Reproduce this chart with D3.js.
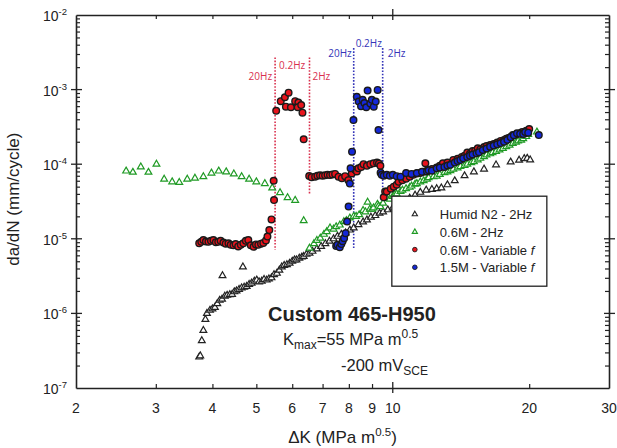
<!DOCTYPE html>
<html>
<head>
<meta charset="utf-8">
<script src="https://cdn.jsdelivr.net/npm/d3@7"></script>
<style>
  body { margin: 0; background: #fff; }
  text { font-family: "Liberation Sans", Arial, sans-serif; fill: #222; }
</style>
</head>
<body>
<div id="chart"></div>
<script>
// data: [deltaK (MPa m^0.5), da/dN (mm/cycle)]
var humidN2 = [
  [3.74,2.6e-7],[3.76,2.7e-7],[3.79,4.3e-7],[3.82,5.9e-7],[3.86,8.3e-7],[3.89,1.0e-6],[3.95,1.1e-6],
  [4.0,1.15e-6],[4.05,1.2e-6],[4.1,1.35e-6],[4.15,1.5e-6],[4.21,3.2e-6],[4.2,1.55e-6],[4.26,1.7e-6],
  [4.31,1.75e-6],[4.37,1.78e-6],[4.42,1.8e-6],[4.47,1.95e-6],[4.52,2.0e-6],[4.58,2.1e-6],[4.64,2.2e-6],
  [4.67,4.2e-6],[4.7,2.25e-6],[4.76,2.3e-6],[4.82,2.45e-6],[4.88,2.55e-6],[4.95,2.7e-6],[5.01,2.8e-6],
  [5.07,2.65e-6],[5.14,2.7e-6],[5.2,2.85e-6],[5.27,2.8e-6],[5.33,2.9e-6],[5.4,3.0e-6],[5.47,3.3e-6],
  [5.55,3.45e-6],[5.62,3.8e-6],[5.69,4.2e-6],[5.76,4.4e-6],[5.84,4.5e-6],[5.92,4.7e-6],[6.0,5.0e-6],
  [6.07,5.2e-6],[6.13,5.2e-6],[6.22,5.5e-6],[6.3,5.7e-6],[6.36,5.8e-6],[6.45,6.2e-6],[6.55,6.4e-6],
  [6.65,6.8e-6],[6.8,7.3e-6],[6.95,7.9e-6],[7.1,8.6e-6],[7.25,9.3e-6],[7.4,1.0e-5],[7.55,1.08e-5],
  [7.7,1.15e-5],[7.87,1.2e-5],[8.04,1.31e-5],[8.2,1.4e-5],[8.4,1.55e-5],[8.6,1.68e-5],[8.77,1.79e-5],
  [8.95,1.95e-5],[9.15,2.05e-5],[9.35,2.2e-5],[9.52,2.3e-5],[9.75,2.45e-5],[10.0,2.6e-5],[10.2,2.75e-5],
  [10.4,3.0e-5],[10.65,3.2e-5],[10.9,3.5e-5],[11.2,3.85e-5],[11.5,4.2e-5],[11.85,4.5e-5],[12.2,4.6e-5],
  [12.5,4.7e-5],[12.8,4.8e-5],[13.2,5.3e-5],[13.7,6.0e-5],[14.4,7.0e-5],[15.1,7.9e-5],[15.9,8.6e-5],
  [16.9,9.8e-5],[18.2,1.07e-4],[19.0,1.13e-4],[19.5,1.19e-4],[19.8,1.2e-4],[20.1,1.14e-4]
];

var nacl06_2Hz = [
  [2.58,8.1e-5],[2.67,7.8e-5],[2.78,9.2e-5],[2.89,7.8e-5],[3.01,1.0e-4],[3.13,6.3e-5],[3.26,5.8e-5],
  [3.38,5.7e-5],[3.52,6.3e-5],[3.66,6.5e-5],[3.82,6.8e-5],[3.98,7.6e-5],[4.13,8.1e-5],[4.29,7.9e-5],
  [4.46,7.4e-5],[4.64,6.8e-5],[4.82,6.3e-5],[5.0,5.8e-5],[5.22,5.5e-5],[5.42,4.8e-5],[5.64,4.15e-5],
  [5.86,3.56e-5],[6.09,3.28e-5],[6.36,1.75e-5],
  [6.55,7.5e-6],[6.7,8.6e-6],[6.8,9.5e-6],[6.92,1.02e-5],[7.05,1.15e-5],[7.15,1.25e-5],[7.27,1.4e-5],
  [7.4,1.35e-5],[7.5,1.45e-5],[7.64,1.53e-5],[7.8,1.7e-5],[7.9,1.75e-5],[8.04,1.9e-5],[8.2,2.0e-5],
  [8.3,2.0e-5],[8.43,2.1e-5],[8.6,2.4e-5],[8.7,2.3e-5],[8.8,3.1e-5],[8.9,2.5e-5],[9.0,2.5e-5],
  [9.07,2.6e-5],[9.25,2.9e-5],[9.3,2.75e-5],[9.39,2.7e-5],[9.52,3.0e-5],[9.7,3.5e-5],[9.85,3.4e-5],
  [10.0,3.7e-5],[10.1,3.9e-5],[10.2,4.0e-5],[10.4,4.3e-5],[10.5,4.5e-5],[10.7,4.7e-5],[10.9,4.9e-5],
  [11.0,5.1e-5],[11.2,5.4e-5],[11.3,5.5e-5],[11.5,5.8e-5],[11.7,6.0e-5],[11.9,6.3e-5],[12.0,6.6e-5],
  [12.3,6.8e-5],[12.5,6.9e-5],[12.7,7.3e-5],[13.0,7.7e-5],[13.2,7.9e-5],[13.4,8.2e-5],[13.6,8.6e-5],
  [13.9,8.9e-5],[14.1,9.3e-5],[14.4,9.6e-5],[14.6,1.0e-4],[14.9,1.05e-4],[15.1,1.08e-4],[15.4,1.14e-4],
  [15.6,1.2e-4],[15.9,1.26e-4],[16.1,1.33e-4],[16.4,1.38e-4],[16.6,1.43e-4],[16.9,1.48e-4],
  [17.2,1.55e-4],[17.5,1.63e-4],[17.8,1.72e-4],[18.1,1.8e-4],[18.4,1.9e-4],[18.7,1.98e-4],
  [18.9,2.05e-4],[19.2,2.1e-4],[19.4,2.2e-4],[19.7,2.35e-4],[19.9,2.5e-4],[20.8,2.7e-4]
];

var nacl06_var = [
  [3.74,8.7e-6],[3.78,9.1e-6],[3.82,9.6e-6],[3.87,9.2e-6],[3.92,9.1e-6],[3.97,9.4e-6],[4.02,9.6e-6],
  [4.07,9.0e-6],[4.12,9.1e-6],[4.17,9.4e-6],[4.23,8.9e-6],[4.28,8.6e-6],[4.34,8.7e-6],[4.39,8.3e-6],
  [4.45,8.2e-6],[4.5,8.5e-6],[4.56,7.9e-6],[4.62,8.3e-6],[4.68,8.7e-6],[4.74,9.4e-6],[4.8,9.6e-6],
  [4.86,8.2e-6],[4.93,7.8e-6],[4.99,8.4e-6],[5.05,8.3e-6],[5.12,8.6e-6],[5.18,8.8e-6],[5.25,9.5e-6],
  [5.29,1.07e-5],[5.34,1.31e-5],[5.4,1.82e-5],[5.47,3.3e-5],[5.46,6.0e-5],
  [5.53,5.2e-4],[5.66,7.0e-4],[5.78,7.9e-4],[5.89,9.1e-4],[5.81,5.9e-4],[5.96,5.8e-4],[6.09,7.0e-4],
  [6.19,6.7e-4],[6.17,5.8e-4],[6.28,6.2e-4],[6.32,4.9e-4],[6.36,2.16e-4],
  [6.54,6.95e-5],[6.62,6.7e-5],[6.74,6.8e-5],[6.82,7.0e-5],[6.91,7.1e-5],[7.0,7.0e-5],[7.09,7.1e-5],
  [7.18,7.2e-5],[7.27,7.15e-5],[7.36,7.3e-5],[7.46,7.4e-5],[7.59,6.8e-5],[7.72,6.5e-5],[7.85,6.9e-5],
  [7.98,6.1e-5],[8.12,7.5e-5],[8.26,8.4e-5],[8.33,8.0e-5],[8.4,8.8e-5],[8.52,9.2e-5],[8.62,1.0e-4],
  [8.77,9.5e-5],[8.92,1.0e-4],[9.07,1.03e-4],[9.23,1.05e-4],[9.32,1.02e-4],[9.39,9.5e-5],
  [9.55,3.6e-5],[9.62,4.3e-5],[9.7,4.3e-5],[9.9,4.7e-5],[10.05,5.0e-5],[10.2,5.3e-5],[10.3,5.8e-5],
  [10.5,6.1e-5],[10.7,6.4e-5],[10.9,6.8e-5],[11.1,7.2e-5],[11.3,7.5e-5],[11.5,7.6e-5],[11.7,7.9e-5],
  [11.8,1.03e-4],[11.95,8.4e-5],[12.2,8.6e-5],[12.5,9.0e-5],[12.7,9.5e-5],[12.9,1.03e-4],[13.2,1.05e-4],
  [13.6,1.14e-4],[13.9,1.18e-4],[14.2,1.25e-4],[14.4,1.3e-4],[14.6,1.43e-4],[14.8,1.38e-4],
  [15.0,1.5e-4],[15.2,1.52e-4],[15.4,1.63e-4],[15.6,1.58e-4],[15.9,1.7e-4],[16.1,1.75e-4],
  [16.4,1.81e-4],[16.7,1.86e-4],[17.0,1.95e-4],[17.3,2.05e-4],[17.6,2.11e-4],[17.8,2.2e-4],
  [18.0,2.25e-4],[18.2,2.3e-4],[18.4,2.46e-4],[18.7,2.5e-4],[19.1,2.6e-4],[19.3,2.7e-4],
  [19.5,2.55e-4],[19.7,2.8e-4],[20.0,2.96e-4]
];

var nacl15_var = [
  [7.5,8.0e-6],[7.55,8.3e-6],[7.64,7.7e-6],[7.7,8.5e-6],[7.75,9.3e-6],[7.81,1.02e-5],[7.87,1.19e-5],
  [7.93,1.7e-5],[7.99,2.7e-5],[8.04,5.5e-5],[8.07,8.8e-5],[8.13,1.47e-4],[8.19,3.9e-4],
  [8.33,8.0e-4],[8.41,6.9e-4],[8.51,6.0e-4],[8.58,7.3e-4],[8.66,6.6e-4],[8.74,5.8e-4],[8.8,9.7e-4],
  [8.92,6.5e-4],[8.99,7.3e-4],[9.08,5.9e-4],[9.17,6.9e-4],[9.26,9.9e-4],[9.3,2.87e-4],
  [9.4,7.7e-5],[9.45,7.2e-5],[9.55,7.0e-5],[9.7,7.2e-5],[9.85,7.0e-5],[10.0,7.2e-5],[10.2,6.9e-5],
  [10.4,6.8e-5],[10.7,7.6e-5],[11.0,7.4e-5],[11.3,7.6e-5],[11.6,7.9e-5],[11.9,8.0e-5],[12.0,8.3e-5],
  [12.2,8.2e-5],[12.5,8.8e-5],[12.7,9.0e-5],[13.0,9.2e-5],[13.2,9.6e-5],[13.4,9.8e-5],[13.7,1.05e-4],
  [13.9,1.1e-4],[14.1,1.14e-4],[14.3,1.2e-4],[14.6,1.25e-4],[14.8,1.3e-4],[15.0,1.35e-4],
  [15.3,1.4e-4],[15.5,1.45e-4],[15.8,1.55e-4],[16.1,1.62e-4],[16.4,1.72e-4],[16.7,1.78e-4],
  [17.0,1.85e-4],[17.3,1.92e-4],[17.6,2.0e-4],[17.9,2.12e-4],[18.2,2.3e-4],[18.5,2.45e-4],
  [18.8,2.6e-4],[19.1,2.55e-4],[19.4,2.54e-4],[19.6,2.7e-4],[19.9,2.65e-4],[21.0,2.46e-4]
];

// frequency change lines (deltaK) and their vertical extent
var redSwitchK = [5.5, 6.55];
var redSwitchBottom = [7.1e-6, 3.9e-5];
var redSwitchTop = 2.7e-3;
var blueSwitchK = [8.2, 9.5];
var blueSwitchBottom = [7.5e-6, 2.4e-5];
var blueSwitchTop = 3.6e-3;

var xTickLabels = [2, 3, 4, 5, 6, 7, 8, 9, 10, 20, 30];
var xMinorTicks = [3, 4, 5, 6, 7, 8, 9, 20];
var yDecades = [1e-7, 1e-6, 1e-5, 1e-4, 1e-3, 1e-2];
var yExponents = [-7, -6, -5, -4, -3, -2];

var legendLabels = ["Humid N2 - 2Hz", "0.6M - 2Hz", "0.6M - Variable ", "1.5M - Variable "];

var svgWidth = 617;
var svgHeight = 448;
var margin = { top: 15, right: 8, bottom: 60, left: 76 };
var width = svgWidth - margin.left - margin.right;
var height = svgHeight - margin.top - margin.bottom;

var RED = "#e8141c", BLUE = "#1428d8", GREEN = "#1f9a24";
var RED_LINE = "#d9304e", BLUE_LINE = "#3434b8";

var svg = d3.select("#chart").append("svg")
  .attr("width", svgWidth)
  .attr("height", svgHeight);

var chartGroup = svg.append("g")
  .attr("transform", `translate(${margin.left}, ${margin.top})`);

var x = d3.scaleLog().domain([2, 30]).range([0, width]);
var y = d3.scaleLog().domain([1e-7, 1e-2]).range([height, 0]);

// minor y ticks: 2..9 in every decade
var yMinorTicks = [];
yDecades.slice(0, -1).forEach(function(d) {
  for (var m = 2; m <= 9; m++) yMinorTicks.push(d * m);
});

// axes with inward ticks on all four sides
function styleAxis(g) {
  g.select(".domain").attr("stroke", "#222").attr("stroke-width", 1.6);
  g.selectAll(".tick line").attr("stroke", "#222").attr("stroke-width", 1.2);
}
chartGroup.append("g")
  .attr("transform", `translate(0, ${height})`)
  .call(d3.axisBottom(x).tickValues(xMinorTicks).tickSize(-4).tickSizeOuter(0).tickFormat(""))
  .call(styleAxis);
chartGroup.append("g")
  .call(d3.axisTop(x).tickValues(xMinorTicks).tickSize(-4).tickSizeOuter(0).tickFormat(""))
  .call(styleAxis);
chartGroup.append("g")
  .call(d3.axisLeft(y).tickValues(yMinorTicks).tickSize(-4).tickSizeOuter(0).tickFormat(""))
  .call(styleAxis);
chartGroup.append("g")
  .attr("transform", `translate(${width}, 0)`)
  .call(d3.axisRight(y).tickValues(yMinorTicks).tickSize(-4).tickSizeOuter(0).tickFormat(""))
  .call(styleAxis);

// major ticks cross the axis lines
var majorG = chartGroup.append("g").attr("stroke", "#222").attr("stroke-width", 1.3);
[0, height].forEach(function(yy) {
  majorG.append("line").attr("x1", x(10)).attr("x2", x(10)).attr("y1", yy - 6).attr("y2", yy + 5);
});
[0, width].forEach(function(xx) {
  majorG.selectAll(null).data(yDecades.slice(1, -1)).enter().append("line")
    .attr("x1", xx - 5).attr("x2", xx + 6)
    .attr("y1", d => y(d)).attr("y2", d => y(d));
});

// x tick labels
chartGroup.append("g").selectAll("text")
  .data(xTickLabels)
  .enter()
  .append("text")
  .attr("x", d => x(d))
  .attr("y", height + 25)
  .attr("text-anchor", "middle")
  .style("font-size", "14px")
  .text(d => d);

// y tick labels 10^n
var yLab = chartGroup.append("g").selectAll("text")
  .data(yDecades)
  .enter()
  .append("text")
  .attr("x", -9)
  .attr("y", d => y(d) + 6)
  .attr("text-anchor", "end")
  .style("font-size", "14px");
yLab.append("tspan").text("10");
yLab.append("tspan").attr("dy", -6).style("font-size", "9.5px")
  .text((d, i) => "-" + (-yExponents[i]));

// axis titles
var xTitle = chartGroup.append("text")
  .attr("x", width / 2)
  .attr("y", height + 55)
  .attr("text-anchor", "middle")
  .style("font-size", "17px");
xTitle.append("tspan").text("\u0394K (MPa m");
xTitle.append("tspan").attr("dy", -7).style("font-size", "11.5px").text("0.5");
xTitle.append("tspan").attr("dy", 7).text(")");

chartGroup.append("text")
  .attr("transform", "rotate(-90)")
  .attr("x", -(y(1e-4) + 35))
  .attr("y", -57)
  .attr("text-anchor", "middle")
  .style("font-size", "17px")
  .text("da/dN (mm/cycle)");

// frequency change lines
function switchLines(ks, bottoms, top, color) {
  chartGroup.append("g").selectAll("line")
    .data(ks)
    .enter()
    .append("line")
    .attr("x1", d => x(d)).attr("x2", d => x(d))
    .attr("y1", y(top))
    .attr("y2", (d, i) => y(bottoms[i]))
    .attr("stroke", color)
    .attr("stroke-width", 1.6)
    .attr("stroke-dasharray", "1.6,1.6");
}
switchLines(redSwitchK, redSwitchBottom, redSwitchTop, RED_LINE);
switchLines(blueSwitchK, blueSwitchBottom, blueSwitchTop, BLUE_LINE);

function freqLabel(xx, yy, anchor, color, txt) {
  chartGroup.append("text")
    .attr("x", xx).attr("y", yy)
    .attr("text-anchor", anchor)
    .style("font-family", "'Open Sans', sans-serif")
    .style("font-size", "10px")
    .style("fill", color)
    .text(txt);
}
freqLabel(x(redSwitchK[0]) - 3, y(redSwitchTop) + 23, "end", RED_LINE, "20Hz");
freqLabel(x(redSwitchK[0]) + 4, y(redSwitchTop) + 12, "start", RED_LINE, "0.2Hz");
freqLabel(x(redSwitchK[1]) + 3, y(redSwitchTop) + 23, "start", RED_LINE, "2Hz");
freqLabel(x(blueSwitchK[0]) - 2, y(blueSwitchTop) + 9, "end", BLUE_LINE, "20Hz");
freqLabel(x(blueSwitchK[0]) + 2, y(blueSwitchTop) - 1, "start", BLUE_LINE, "0.2Hz");
freqLabel(x(blueSwitchK[1]) + 5, y(blueSwitchTop) + 9, "start", BLUE_LINE, "2Hz");

// data markers
var tri = d3.symbol().type(d3.symbolTriangle).size(20);

function triangles(data, color) {
  chartGroup.append("g").selectAll("path")
    .data(data)
    .enter()
    .append("path")
    .attr("d", tri)
    .attr("transform", d => `translate(${x(d[0])}, ${y(d[1])})`)
    .attr("fill", "#fff")
    .attr("stroke", color)
    .attr("stroke-width", 1.2);
}
function circles(data, color) {
  chartGroup.append("g").selectAll("circle")
    .data(data)
    .enter()
    .append("circle")
    .attr("cx", d => x(d[0]))
    .attr("cy", d => y(d[1]))
    .attr("r", 3.3)
    .attr("fill", color)
    .attr("stroke", "#1a1a1a")
    .attr("stroke-width", 1.4);
}
triangles(humidN2, "#222");
triangles(nacl06_2Hz, GREEN);
circles(nacl06_var, RED);
circles(nacl15_var, BLUE);

// legend
var legend = chartGroup.append("g")
  .attr("transform", `translate(${x(13.5) - 60}, ${y(1e-4) + 32})`);
legend.append("rect")
  .attr("width", 155).attr("height", 90)
  .attr("fill", "#fff").attr("stroke", "#222").attr("stroke-width", 1.3);
var legendRows = legend.selectAll(".row")
  .data(legendLabels)
  .enter()
  .append("g")
  .attr("class", "row")
  .attr("transform", (d, i) => `translate(0, ${18 + i * 17.7})`);
legendRows.each(function(d, i) {
  var g = d3.select(this);
  if (i < 2) {
    g.append("path").attr("d", d3.symbol().type(d3.symbolTriangle).size(12))
      .attr("transform", "translate(23, 0)")
      .attr("fill", "#fff").attr("stroke", i === 0 ? "#222" : GREEN).attr("stroke-width", 1.1);
  } else {
    g.append("circle").attr("cx", 23).attr("r", 2.3)
      .attr("fill", i === 2 ? RED : BLUE).attr("stroke", "#1a1a1a").attr("stroke-width", 0.9);
  }
  var t = g.append("text").attr("x", 48).attr("y", 5).style("font-size", "13px").text(d);
  if (i >= 2) t.append("tspan").style("font-style", "italic").text("f");
});

// material annotation
var note = chartGroup.append("g");
note.append("text")
  .attr("x", 192).attr("y", 306)
  .style("font-size", "20px").style("font-weight", "bold")
  .text("Custom 465-H950");
var kmax = note.append("text")
  .attr("x", 207).attr("y", 330)
  .style("font-size", "16.5px");
kmax.append("tspan").text("K");
kmax.append("tspan").attr("dy", 4).style("font-size", "12px").text("max");
kmax.append("tspan").attr("dy", -4).text("=55 MPa m");
kmax.append("tspan").attr("dy", -7).style("font-size", "12px").text("0.5");
var pot = note.append("text")
  .attr("x", 265).attr("y", 356)
  .style("font-size", "16.5px");
pot.append("tspan").text("-200 mV");
pot.append("tspan").attr("dy", 4).style("font-size", "12px").text("SCE");
</script>
</body>
</html>
